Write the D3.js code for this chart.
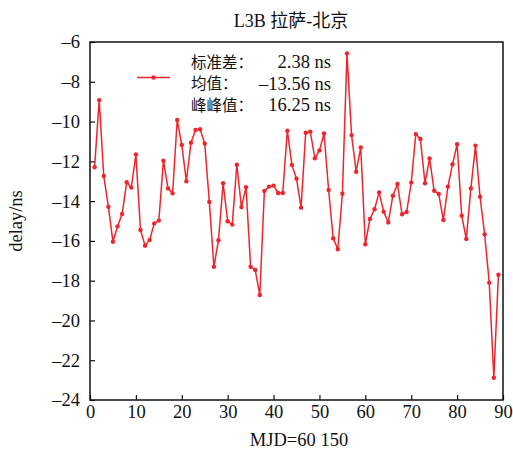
<!DOCTYPE html>
<html>
<head>
<meta charset="utf-8">
<script src="https://cdn.jsdelivr.net/npm/d3@7"></script>
<style>
  body { margin: 0; background: #fff; }
</style>
</head>
<body>
<div id="chart"></div>
<script>
// Data
var days = d3.range(1, 90);
var delay = [
  -12.30, -8.92, -12.74, -14.28, -16.04, -15.27, -14.65, -13.05, -13.32, -11.65,
  -15.45, -16.24, -15.95, -15.12, -14.98, -11.97, -13.36, -13.61, -9.92, -11.18,
  -13.00, -11.06, -10.42, -10.39, -11.10, -14.04, -17.30, -15.97, -13.10, -15.01,
  -15.18, -12.17, -14.30, -13.30, -17.30, -17.46, -18.72, -13.49, -13.27, -13.22,
  -13.59, -13.59, -10.46, -12.18, -12.87, -14.33, -10.56, -10.51, -11.85, -11.45,
  -10.60, -13.44, -15.87, -16.42, -13.63, -6.57, -10.68, -12.52, -11.30, -16.17,
  -14.90, -14.41, -13.56, -14.53, -15.07, -13.73, -13.14, -14.66, -14.55, -13.07,
  -10.63, -10.88, -13.10, -11.85, -13.48, -13.64, -14.95, -13.27, -12.15, -11.14,
  -14.73, -15.90, -13.36, -11.21, -13.78, -15.67, -18.10, -22.88, -17.70
];
var xTicks = [0, 10, 20, 30, 40, 50, 60, 70, 80, 90];
var yTicks = [-24, -22, -20, -18, -16, -14, -12, -10, -8, -6];
var statLabels = ["标准差：", "均值：", "峰峰值："];
var statValues = ["2.38 ns", "–13.56 ns", "16.25 ns"];

// Layout
var W = 513, H = 449;
var plot = {left: 90, right: 503, top: 42, bottom: 400};
var red = "#f0252b";
var serif = "'Liberation Serif', 'Times New Roman', serif";
var mixed = "'Liberation Serif', 'Noto Sans CJK SC', serif";

var x = d3.scaleLinear().domain([0, 90]).range([plot.left, plot.right]);
var y = d3.scaleLinear().domain([-24, -6]).range([plot.bottom, plot.top]);

var svg = d3.select("#chart").append("svg")
  .attr("width", W)
  .attr("height", H);

var fmt = function(d) { return d < 0 ? "–" + Math.abs(d) : d; };

// y axis
var yAxis = svg.append("g")
  .attr("transform", "translate(" + plot.left + ",0)")
  .call(d3.axisLeft(y).tickValues(yTicks).tickFormat(fmt).tickSizeInner(-5).tickSizeOuter(0).tickPadding(10));

// x axis
var xAxis = svg.append("g")
  .attr("transform", "translate(0," + plot.bottom + ")")
  .call(d3.axisBottom(x).tickValues(xTicks).tickSizeInner(-5).tickSizeOuter(0).tickPadding(5));

[yAxis, xAxis].forEach(function(g) {
  g.select(".domain").remove();
  g.selectAll(".tick line").attr("stroke", "#111").attr("stroke-width", 1.2);
  g.selectAll(".tick text")
    .attr("fill", "#111")
    .style("font-family", serif)
    .style("font-size", "18.5px");
});

// frame
svg.append("rect")
  .attr("x", plot.left).attr("y", plot.top)
  .attr("width", plot.right - plot.left).attr("height", plot.bottom - plot.top)
  .attr("fill", "none").attr("stroke", "#111").attr("stroke-width", 1.5);

// series line
var line = d3.line()
  .x(function(d, i) { return x(days[i]); })
  .y(function(d) { return y(d); });

svg.append("path")
  .datum(delay)
  .attr("d", line)
  .attr("fill", "none")
  .attr("stroke", red)
  .attr("stroke-width", 1.5);

svg.append("g").selectAll("circle")
  .data(delay)
  .enter().append("circle")
    .attr("cx", function(d, i) { return x(days[i]); })
    .attr("cy", function(d) { return y(d); })
    .attr("r", 2.2)
    .attr("fill", red);

// legend
svg.append("line")
  .attr("x1", 137).attr("x2", 170).attr("y1", 77.5).attr("y2", 77.5)
  .attr("stroke", red).attr("stroke-width", 1.5);
svg.append("circle")
  .attr("cx", 153.5).attr("cy", 77.5).attr("r", 2.2).attr("fill", red);

var stats = svg.append("g");
stats.selectAll("text.lab")
  .data(statLabels)
  .enter().append("text")
    .attr("class", "lab")
    .attr("x", 191)
    .attr("y", function(d, i) { return 67.5 + i * 21.7; })
    .attr("fill", "#111")
    .style("font-family", "'Noto Sans CJK SC', sans-serif")
    .style("font-size", "15.5px")
    .text(function(d) { return d; });
stats.selectAll("text.val")
  .data(statValues)
  .enter().append("text")
    .attr("class", "val")
    .attr("x", 331)
    .attr("y", function(d, i) { return 68 + i * 21.7; })
    .attr("text-anchor", "end")
    .attr("fill", "#111")
    .style("font-family", serif)
    .style("font-size", "18.5px")
    .text(function(d) { return d; });

// title and axis labels
svg.append("text")
  .attr("x", 291).attr("y", 27)
  .attr("text-anchor", "middle")
  .attr("fill", "#111")
  .style("font-family", mixed)
  .style("font-size", "18px")
  .text("L3B 拉萨-北京");

svg.append("text")
  .attr("x", 299).attr("y", 446)
  .attr("text-anchor", "middle")
  .attr("fill", "#111")
  .style("font-family", serif)
  .style("font-size", "18.5px")
  .text("MJD=60 150");

svg.append("text")
  .attr("transform", "translate(22,221) rotate(-90)")
  .attr("text-anchor", "middle")
  .attr("fill", "#111")
  .style("font-family", serif)
  .style("font-size", "18.5px")
  .text("delay/ns");
</script>
</body>
</html>
